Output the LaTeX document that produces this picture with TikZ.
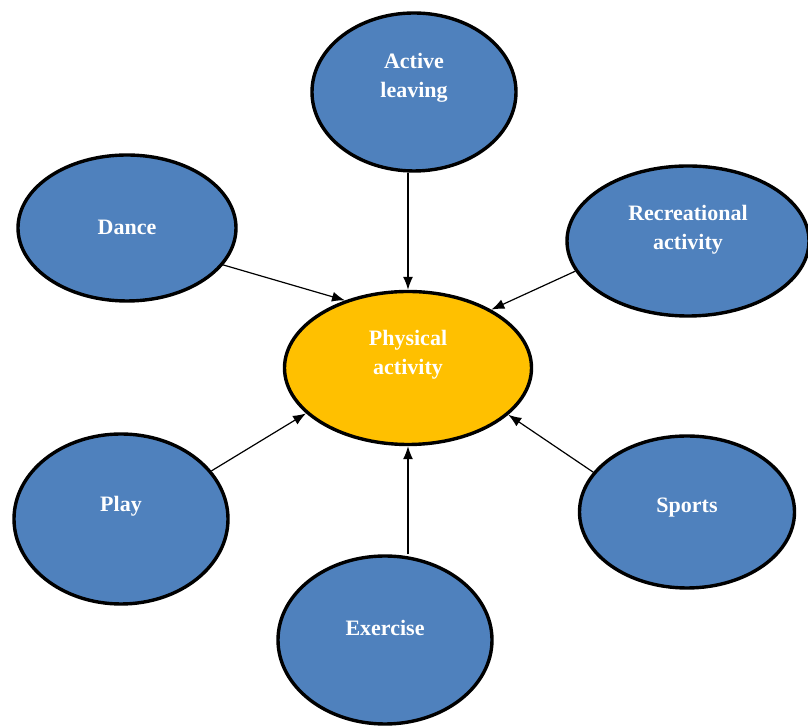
\documentclass[tikz,border=0pt]{standalone}
\usepackage{fontspec}
\setmainfont{Liberation Serif}
\usetikzlibrary{shapes.geometric}
\usetikzlibrary{arrows.meta}

\definecolor{topicblue}{HTML}{4F81BD}
\definecolor{hubgold}{HTML}{FFC000}

\begin{document}
\begin{tikzpicture}[
    x=1pt, y=1pt,   % one unit is one pixel of the layout
    ]
% -------------------------------------------------
\tikzset{
  base/.style={draw=black, ellipse, line width=3.4pt, inner sep=0pt},
  blob/.style={base, fill=topicblue},
  hub/.style={base, fill=hubgold},
  txt/.style={text=white, align=center, font=\fontsize{22}{29}\selectfont\bfseries},
  line/.style={draw, line width=1.2pt, -{Latex[length=13pt,width=10pt]}}
}
% -------------------------------------------------
\useasboundingbox (0,0) rectangle (808,727);

% Placing the nodes
\node [hub, minimum width=247pt, minimum height=153pt,
       label={[txt, yshift=13pt]center:Physical\\activity}] (phys) at (408,359) {};
\node [blob, minimum width=204pt, minimum height=158pt,
       label={[txt, yshift=14pt]center:Active\\leaving}] (act) at (414,635) {};
\node [blob, minimum width=218pt, minimum height=146pt,
       label={[txt, yshift=1pt]center:Dance}] (dance) at (127,499) {};
\node [blob, minimum width=242pt, minimum height=150pt,
       label={[txt, yshift=11pt]center:Recreational\\activity}] (rec) at (688,486) {};
\node [blob, minimum width=214pt, minimum height=170pt,
       label={[txt, yshift=13pt]center:Play}] (play) at (121,208) {};
\node [blob, minimum width=215pt, minimum height=152pt,
       label={[txt, yshift=4pt]center:Sports}] (sports) at (687,215) {};
\node [blob, minimum width=214pt, minimum height=168pt,
       label={[txt, yshift=12pt]center:Exercise}] (ex) at (385,87) {};

\path [line] (act.south -| phys.north) -- (phys.north);
\path [line] (dance.-21) -- (phys.133);
\path [line] (rec.195) -- (phys.35);
\path [line] (play.28) -- (phys.204);
\path [line] (sports.157) -- (phys.-25);
\path [line] (ex.north -| phys.south) -- (phys.south);

\end{tikzpicture}
\end{document}
